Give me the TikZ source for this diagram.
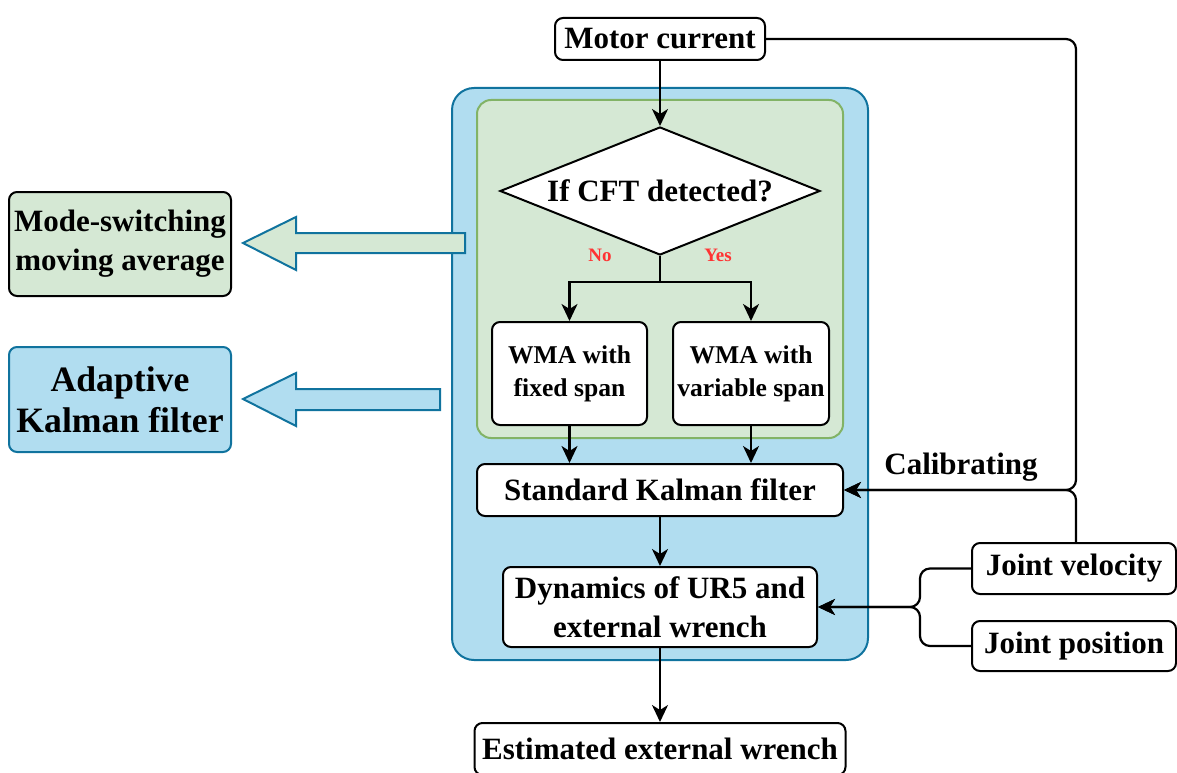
\documentclass[tikz,border=0pt]{standalone}
\usepackage{fontspec}
\setmainfont{Liberation Serif}
\usetikzlibrary{arrows.meta,shapes.geometric}

\definecolor{boxblue}{HTML}{B1DDF0}
\definecolor{edgeblue}{HTML}{10739E}
\definecolor{boxgreen}{HTML}{D5E8D4}
\definecolor{edgegreen}{HTML}{82B366}
\definecolor{labelred}{HTML}{FF3333}

\begin{document}
\begin{tikzpicture}[x=1pt, y=-1pt,
				block/.style={rectangle, draw, line width=2pt, rounded corners=8pt, fill=white,
					align=center, inner sep=0pt, font=\fontsize{31}{39}\selectfont\bfseries},
				small/.style={font=\fontsize{25.6}{33}\selectfont\bfseries},
				decision/.style={diamond, draw, line width=2pt, fill=white, aspect=2.5, inner sep=0pt,
					minimum width=320pt, minimum height=128pt, font=\fontsize{31}{39}\selectfont\bfseries},
				branch/.style={text=labelred, font=\fontsize{19}{23}\selectfont\bfseries},
				arrow/.style={-{Stealth[length=17pt,width=16pt,inset=5pt]}, line width=2.2pt},
				link/.style={rounded corners=10pt},
				bigarrow/.style={draw=edgeblue, line width=2pt}
				]
				\useasboundingbox (0,0) rectangle (1177,773);
				
				\node[draw=edgeblue, fill=boxblue, line width=2pt, rounded corners=22pt,
					minimum width=416pt, minimum height=572pt] (panel) at (660,374) {};
				\node[draw=edgegreen, fill=boxgreen, line width=2pt, rounded corners=14pt,
					minimum width=366pt, minimum height=338pt] (wma) at (660,269) {};
				
				\node[block, minimum width=210pt, minimum height=42pt] (motor) at (660,39) {Motor current};
				\node[decision] (cft) at (660,191) {If CFT detected?};
				\node[branch] (no) at (600,255) {No};
				\node[branch] (yes) at (718,255) {Yes};
				\node[block, small, minimum width=155pt, minimum height=103pt] (fixed) at (569.5,373.5) {WMA with\\fixed span};
				\node[block, small, minimum width=156pt, minimum height=103pt] (variable) at (751,373.5) {WMA with\\variable span};
				\node[block, minimum width=366pt, minimum height=52pt] (skf) at (660,490) {Standard Kalman filter};
				\node[block, minimum width=314pt, minimum height=80pt] (dyn) at (660,607) {Dynamics of UR5 and\\external wrench};
				\node[block, minimum width=371pt, minimum height=52pt] (est) at (660,749) {Estimated external wrench};
				
				\node[block, minimum width=204pt, minimum height=51pt] (jv) at (1074,568.5) {Joint velocity};
				\node[block, minimum width=204pt, minimum height=50pt] (jp) at (1074,646) {Joint position};
				\node[font=\fontsize{31}{39}\selectfont\bfseries] (calibtext) at (961,467) {Calibrating};
				
				\node[block, fill=boxgreen, minimum width=222pt, minimum height=104pt] (msma) at (120,244) {Mode-switching\\moving average};
				\node[block, fill=boxblue, draw=edgeblue, minimum width=222pt, minimum height=105pt,
					font=\fontsize{35.7}{41}\selectfont\bfseries] (akf) at (120,399.5) {Adaptive\\Kalman filter};
				
				\draw[bigarrow, fill=boxgreen] (465,233) -- (296,233) -- (296,217) -- (243,243)
					-- (296,270) -- (296,253) -- (465,253) -- cycle;
				\draw[bigarrow, fill=boxblue] (440,389) -- (296,389) -- (296,373) -- (243,399)
					-- (296,426) -- (296,410) -- (440,410) -- cycle;
				
				\coordinate (fork) at (660,282);
				\coordinate (calib) at (1076,490);
				\coordinate (merge) at (920,607);
				
				\draw[arrow] (motor) -- (cft);
				\draw[line width=2.2pt] (cft.south) -- (fork);
				\draw[arrow] (fork) -| (fixed);
				\draw[arrow] (fork) -| (variable);
				\draw[arrow] (fixed.south) -- (fixed.south |- skf.north);
				\draw[arrow] (variable.south) -- (variable.south |- skf.north);
				\draw[arrow] (skf) -- (dyn);
				\draw[arrow] (dyn) -- (est);
				
				\draw[arrow, link] (motor.east) -| (calib) -- (skf.east);
				\draw[arrow, link] (calib |- jv.north) -- (calib) -- (skf.east);
				\draw[arrow, link] (jv.west) -| (merge) -- (dyn.east);
				\draw[arrow, link] (jp.west) -| (merge) -- (dyn.east);
\end{tikzpicture}
\end{document}
